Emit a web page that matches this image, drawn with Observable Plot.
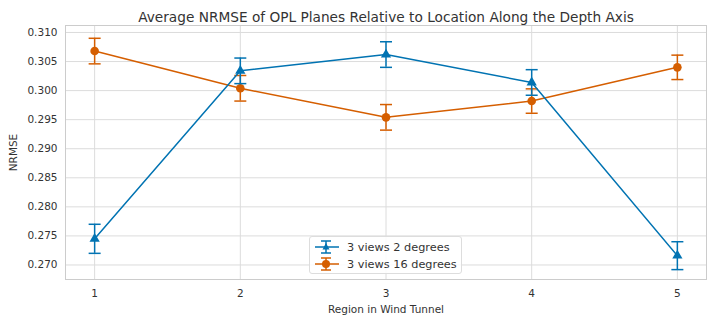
<!DOCTYPE html>
<html><head><meta charset="utf-8">
<script src="https://cdn.jsdelivr.net/npm/d3@7"></script>
<script src="https://cdn.jsdelivr.net/npm/@observablehq/plot@0.6"></script>
<style>
body{margin:0;background:#fff;font-family:"DejaVu Sans",sans-serif;}
#wrap{position:relative;width:714px;height:323px;}
#legend{position:absolute;left:309px;top:236px;width:153px;height:38px;border:1px solid #ddd;border-radius:3px;background:rgba(255,255,255,0.85);font:11.3px "DejaVu Sans",sans-serif;color:#333;box-sizing:border-box;}
.row{position:absolute;left:4px;display:flex;align-items:center;}
.row span{margin-left:7px;}
</style></head>
<body><div id="wrap"></div>
<script>
const regions = [1, 2, 3, 4, 5];
const seriesNames = ["3 views 2 degrees", "3 views 16 degrees"];
const mean2deg = [0.2745, 0.3034, 0.3062, 0.3014, 0.2716];
const err2deg = [0.0025, 0.0022, 0.0022, 0.0022, 0.0024];
const mean16deg = [0.3068, 0.3004, 0.2954, 0.2982, 0.3040];
const err16deg = [0.0022, 0.0022, 0.0022, 0.0021, 0.0021];
const colors = ["#0173b2", "#d55e00"];
const yTicks = [0.270, 0.275, 0.280, 0.285, 0.290, 0.295, 0.300, 0.305, 0.310];

const data = [];
regions.forEach((r, i) => {
  data.push({region: r, series: seriesNames[0], v: mean2deg[i], e: err2deg[i]});
  data.push({region: r, series: seriesNames[1], v: mean16deg[i], e: err16deg[i]});
});
const s2 = data.filter(d => d.series === seriesNames[0]);
const s16 = data.filter(d => d.series === seriesNames[1]);

const capSymbol = {draw(ctx, size){ const w = Math.sqrt(size / Math.PI); ctx.moveTo(-w, 0); ctx.lineTo(w, 0); }};

function seriesMarks(arr, color, sym, r){
  return [
    Plot.ruleX(arr, {x: "region", y1: d => d.v - d.e, y2: d => d.v + d.e, stroke: color, strokeWidth: 1.5}),
    Plot.dot(arr, {x: "region", y: d => d.v - d.e, symbol: capSymbol, r: 6, stroke: color, strokeWidth: 1.5, fill: "none"}),
    Plot.dot(arr, {x: "region", y: d => d.v + d.e, symbol: capSymbol, r: 6, stroke: color, strokeWidth: 1.5, fill: "none"}),
    Plot.line(arr, {x: "region", y: "v", stroke: color, strokeWidth: 1.5}),
    Plot.dot(arr, {x: "region", y: "v", symbol: sym, r: r, fill: color, stroke: "none"})
  ];
}

const chart = Plot.plot({
  width: 714, height: 323,
  marginLeft: 65, marginRight: 8, marginTop: 25, marginBottom: 44,
  style: {fontFamily: "DejaVu Sans, sans-serif", fontSize: "10.5px", color: "#333", background: "#fff"},
  x: {domain: [0.8, 5.2], ticks: regions, tickFormat: d => String(d), tickSize: 0, tickPadding: 10, label: "Region in Wind Tunnel", labelAnchor: "center", labelArrow: "none", labelOffset: 33},
  y: {domain: [0.2675, 0.3112], ticks: yTicks, tickFormat: d3.format(".3f"), tickSize: 0, tickPadding: 8, label: "NRMSE", labelAnchor: "center", labelArrow: "none", labelOffset: 56},
  marks: [
    Plot.gridX(regions, {stroke: "#dcdcdc", strokeOpacity: 1, strokeWidth: 1}),
    Plot.gridY(yTicks, {stroke: "#dcdcdc", strokeOpacity: 1, strokeWidth: 1}),
    Plot.frame({stroke: "#cccccc", strokeWidth: 1}),
    ...seriesMarks(s16, colors[1], "circle", 4.3),
    ...seriesMarks(s2, colors[0], "triangle", 3.8),
    Plot.text(["Average NRMSE of OPL Planes Relative to Location Along the Depth Axis"], {frameAnchor: "top", dy: -13, fontSize: 13.7, fill: "#333"})
  ]
});
document.getElementById("wrap").appendChild(chart);

// legend
const leg = document.createElement("div");
leg.id = "legend";
seriesNames.forEach((name, i) => {
  const row = document.createElement("div");
  row.className = "row";
  row.style.top = (i === 0 ? 2 : 19) + "px";
  const c = colors[i];
  const marker = i === 0
    ? `<path d="M12,4 L15.5,10.5 L8.5,10.5 Z" fill="${c}"/>`
    : `<circle cx="12" cy="8" r="4" fill="${c}"/>`;
  row.innerHTML = `<svg width="26" height="16"><line x1="1" y1="8" x2="25" y2="8" stroke="${c}" stroke-width="1.5"/><line x1="12" y1="2" x2="12" y2="14" stroke="${c}" stroke-width="1.5"/><line x1="7" y1="2" x2="17" y2="2" stroke="${c}" stroke-width="1.5"/><line x1="7" y1="14" x2="17" y2="14" stroke="${c}" stroke-width="1.5"/>${marker}</svg><span>${name}</span>`;
  leg.appendChild(row);
});
document.getElementById("wrap").appendChild(leg);
</script></body></html>
